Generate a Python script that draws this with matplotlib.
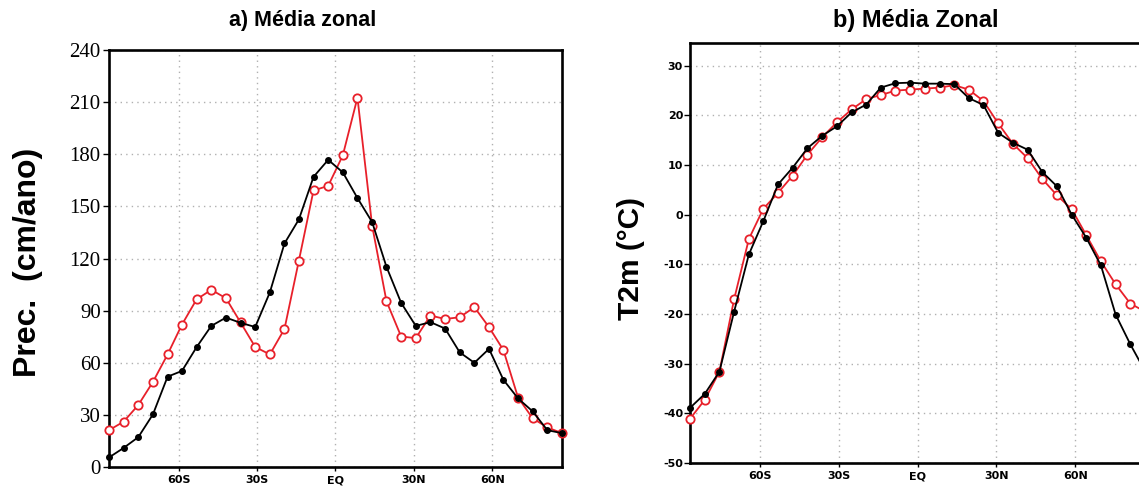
import matplotlib
matplotlib.use("Agg")
import matplotlib.pyplot as plt

# latitudes of the model grid (deg, S negative)
lats = [-86.6, -81.0, -75.4, -69.8, -64.2, -58.7, -53.1, -47.5, -41.9, -36.3,
        -30.7, -25.1, -19.5, -14.0, -8.4, -2.8, 2.8, 8.4, 14.0, 19.5,
        25.1, 30.7, 36.3, 41.9, 47.5, 53.1, 58.7, 64.2, 69.8, 75.4, 81.0, 86.6]

# a) precipitation (cm/ano)
prec_black = [5.5, 11, 17.2, 30.3, 52, 55.3, 69, 81.2, 86, 83, 80.6, 100.5,
              128.7, 142.5, 167, 176.8, 169.6, 154.8, 141, 115.2, 94.5, 81.2,
              83.4, 79.7, 66, 60, 68, 50.2, 39.5, 32, 21.2, 19.5]
prec_red = [21.2, 26.1, 35.7, 49, 64.8, 82, 96.5, 102, 97.2, 83.2, 69.1, 64.8,
            79.5, 118.8, 159.2, 161.8, 179.4, 212.6, 139, 95.4, 75.1, 74.2,
            87.2, 85.2, 86.2, 92, 80.5, 67.3, 40, 28, 22.8, 19.5]

# b) 2m temperature (C)
t2m_black = [-38.9, -36.1, -31.6, -19.5, -8.0, -1.3, 6.1, 9.5, 13.4, 15.9,
             17.8, 20.6, 22.2, 25.6, 26.5, 26.6, 26.4, 26.4, 26.3, 23.5,
             22.1, 16.5, 14.5, 13.1, 8.6, 5.7, 0.0, -4.6, -10.2, -20.1, -26.1, -31.5]
t2m_red = [-41.1, -37.3, -31.6, -17.0, -4.9, 1.2, 4.4, 7.9, 12.1, 15.6,
           18.6, 21.2, 23.3, 24.1, 25.0, 25.2, 25.4, 25.6, 26.1, 25.2,
           22.9, 18.4, 14.3, 11.4, 7.2, 3.9, 1.1, -4.1, -9.4, -14.0, -17.9, -19.5]

lat_ticks = [-60, -30, 0, 30, 60]
lat_labels = ['60S', '30S', 'EQ', '30N', '60N']
prec_ticks = [0, 30, 60, 90, 120, 150, 180, 210, 240]
t2m_ticks = [-50, -40, -30, -20, -10, 0, 10, 20, 30]

small_font = ['Liberation Sans Narrow', 'DejaVu Sans']
red = '#e8202a'

fig = plt.figure(figsize=(11.39, 4.93), dpi=100)
ax1 = fig.add_axes([0.0957, 0.0527, 0.3977, 0.8458])
ax2 = fig.add_axes([0.6058, 0.0609, 0.3995, 0.852])


def draw(ax, red_vals, black_vals):
    ax.plot(lats, red_vals, color=red, lw=1.3, marker='o', ms=6,
            mfc='white', mec=red, mew=1.3, zorder=3, clip_on=False)
    ax.plot(lats, black_vals, color='black', lw=1.3, marker='o', ms=4,
            mfc='black', mec='black', zorder=4, clip_on=False)
    ax.set_xlim(-86.6, 86.6)
    ax.set_xticks(lat_ticks)
    ax.set_xticklabels(lat_labels, family=small_font, fontweight='bold', fontsize=8)
    ax.grid(True, color='#b0b0b0', ls=(0, (1, 3)), lw=1)
    for s in ax.spines.values():
        s.set_linewidth(1.9)
    ax.tick_params(axis='x', length=3, width=1, pad=3)
    ax.tick_params(axis='y', length=4, width=1)


draw(ax1, prec_red, prec_black)
ax1.set_ylim(0, 240)
ax1.set_yticks(prec_ticks)
ax1.set_yticklabels([str(v) for v in prec_ticks], family='Liberation Serif', fontsize=15)
ax1.tick_params(axis='y', pad=2)
ax1.text(0.428, 1.07, 'a) Média zonal', transform=ax1.transAxes, ha='center',
         va='center', family='Liberation Sans', fontweight='bold', fontsize=15.5)
fig.text(28 / 1139, 1 - 262 / 493, 'Prec.  (cm/ano)', rotation=90, ha='center',
         va='center', family='Liberation Sans', fontweight='bold', fontsize=23)

draw(ax2, t2m_red, t2m_black)
ax2.set_ylim(-50, 34.6)
ax2.set_yticks(t2m_ticks)
ax2.set_yticklabels([str(v) for v in t2m_ticks], family=small_font,
                    fontweight='bold', fontsize=8)
ax2.tick_params(axis='y', pad=1)
fig.text(916 / 1139, 1 - 21 / 493, 'b) Média Zonal', ha='center', va='center',
         family='Liberation Sans', fontweight='bold', fontsize=17)
fig.text(631 / 1139, 1 - 258 / 493, 'T2m (°C)', rotation=90, ha='center',
         va='center', family='Liberation Sans', fontweight='bold', fontsize=21.5)

fig.savefig('out.png', dpi=100)
